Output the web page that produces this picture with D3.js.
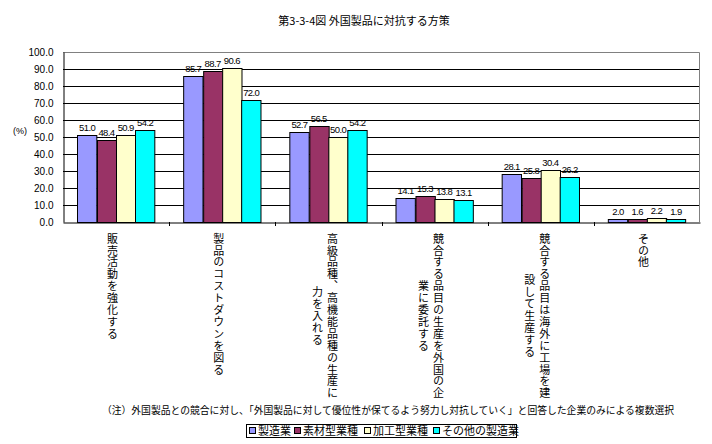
<!DOCTYPE html>
<html>
<head>
<meta charset="utf-8">
<script src="https://cdn.jsdelivr.net/npm/d3@7"></script>
<style>
  html, body { margin: 0; padding: 0; background: #fff; }
  svg { display: block; }
  text { font-family: "Liberation Sans", Arial, "Noto Sans CJK JP", sans-serif; fill: #000; }
  .jp { font-family: "Noto Sans CJK JP", "Liberation Sans", sans-serif; }
  .val { font-family: "Liberation Sans", Arial, sans-serif; letter-spacing: -0.6px; }
</style>
</head>
<body>
<script>
const title = "第3-3-4図  外国製品に対抗する方策";
const categories = ["販売活動を強化する", "製品のコストダウンを図る", "高級品種、高機能品種の生産に力を入れる", "競合する品目の生産を外国の企業に委託する", "競合する品目は海外に工場を建設して生産する", "その他"];
const categoryLines = [
  ["販売活動を強化する"],
  ["製品のコストダウンを図る"],
  ["高級品種、高機能品種の生産に", "力を入れる"],
  ["競合する品目の生産を外国の企", "業に委託する"],
  ["競合する品目は海外に工場を建", "設して生産する"],
  ["その他"]
];
const seriesNames = ["製造業", "素材型業種", "加工型業種", "その他の製造業"];
const seriesColors = ["#9999FF", "#993366", "#FFFFCC", "#00FFFF"];
const s1 = [51.0, 85.7, 52.7, 14.1, 28.1, 2.0];
const s2 = [48.4, 88.7, 56.5, 15.3, 25.8, 1.6];
const s3 = [50.9, 90.6, 50.0, 13.8, 30.4, 2.2];
const s4 = [54.2, 72.0, 54.2, 13.1, 26.2, 1.9];
const seriesValues = [s1, s2, s3, s4];
const yTicks = [0, 10, 20, 30, 40, 50, 60, 70, 80, 90, 100];
const yUnit = "(%)";
const note = "（注）外国製品との競合に対し、「外国製品に対して優位性が保てるよう努力し対抗していく」と回答した企業のみによる複数選択";

const W = 712, H = 444;
const svg = d3.select("body").append("svg").attr("width", W).attr("height", H);

const pLeft = 63, pRight = 700, pTop = 52, pBottom = 222;
const x = d3.scaleBand().domain(categories).range([pLeft, pRight]).paddingInner(0).paddingOuter(0);
const x1 = d3.scaleBand().domain(seriesNames).range([x.bandwidth() * 0.136, x.bandwidth() * 0.864]).padding(0);
const y = d3.scaleLinear().domain([0, 100]).range([pBottom, pTop]);

// title
svg.append("text").attr("class", "jp").attr("x", 364).attr("y", 25)
  .attr("text-anchor", "middle").attr("font-size", 11).text(title);

// gridlines
svg.append("g").selectAll("line").data(yTicks.filter(d => d > 0 && d < 100)).join("line")
  .attr("x1", pLeft).attr("x2", pRight)
  .attr("y1", d => Math.round(y(d)) + 0.5).attr("y2", d => Math.round(y(d)) + 0.5)
  .attr("stroke", "#000").attr("stroke-width", 1);

// plot border top & right (gray)
svg.append("path")
  .attr("d", `M${pLeft},${Math.round(y(100)) + 0.5}H${pRight - 0.5}V${pBottom}`)
  .attr("fill", "none").attr("stroke", "#808080").attr("stroke-width", 1);

// y axis
const yAxis = d3.axisLeft(y).tickValues(yTicks).tickSize(0).tickPadding(10).tickFormat(d3.format(".1f"));
const gy = svg.append("g").attr("transform", `translate(${pLeft + 0.5},0)`).call(yAxis);
gy.select(".domain").attr("stroke", "#000");
gy.selectAll("text").attr("font-size", 10).attr("font-family", "Liberation Sans, Arial, sans-serif");

svg.append("text").attr("x", 13).attr("y", 134).attr("font-size", 9).text(yUnit);

// bars
const groups = svg.append("g").selectAll("g").data(categories).join("g")
  .attr("transform", d => `translate(${x(d)},0)`);
groups.selectAll("rect").data((c, i) => seriesNames.map((s, j) => ({s, j, v: seriesValues[j][i]}))).join("rect")
  .attr("x", d => Math.round(x1(d.s)) + 0.5)
  .attr("y", d => Math.round(y(d.v)) + 0.5)
  .attr("width", x1.bandwidth())
  .attr("height", d => pBottom - Math.round(y(d.v)))
  .attr("fill", d => seriesColors[d.j]).attr("stroke", "#000").attr("stroke-width", 1);
groups.selectAll("text.val").data((c, i) => seriesNames.map((s, j) => ({s, j, v: seriesValues[j][i]}))).join("text")
  .attr("class", "val")
  .attr("x", d => x1(d.s) + x1.bandwidth() / 2)
  .attr("y", d => y(d.v) - 4)
  .attr("text-anchor", "middle").attr("font-size", 9.5)
  .text(d => d.v.toFixed(1));

// x axis
const xAxis = d3.axisBottom(x).tickSize(0).tickFormat("");
const gx = svg.append("g").attr("transform", `translate(0,${pBottom + 0.5})`).call(xAxis);
gx.select(".domain").attr("stroke", "#000");
svg.append("g").selectAll("line").data(categories.slice(1)).join("line")
  .attr("x1", d => Math.round(x(d)) + 0.5).attr("x2", d => Math.round(x(d)) + 0.5)
  .attr("y1", pBottom).attr("y2", pBottom + 4).attr("stroke", "#000");

// category labels (vertical)
const pitch = 11.9, labTop = 233, colGap = 15;
categoryLines.forEach((lines, i) => {
  const c = x(categories[i]) + x.bandwidth() / 2 - 3.5;
  const maxLen = d3.max(lines, l => l.length);
  const cy = labTop + maxLen * pitch / 2;
  const n = lines.length;
  lines.forEach((l, k) => {
    const cx = c + ((n - 1) / 2 - k) * colGap;
    svg.append("text").attr("class", "jp")
      .attr("x", cx).attr("y", cy)
      .attr("text-anchor", "middle")
      .attr("font-size", 11)
      .style("writing-mode", "vertical-rl")
      .style("text-orientation", "upright")
      .style("letter-spacing", "0.9px")
      .text(l);
  });
});

// note
svg.append("text").attr("class", "jp").attr("x", 388).attr("y", 414)
  .attr("text-anchor", "middle").attr("font-size", 9.8).text(note);

// legend
const lg = svg.append("g");
lg.append("rect").attr("x", 246.5).attr("y", 424.5).attr("width", 270).attr("height", 13)
  .attr("fill", "#fff").attr("stroke", "#000");
const legX = [249, 294, 364, 433];
seriesNames.forEach((s, j) => {
  lg.append("rect").attr("x", legX[j] + 0.5).attr("y", 427.5).attr("width", 6).attr("height", 6)
    .attr("fill", seriesColors[j]).attr("stroke", "#000");
  lg.append("text").attr("class", "jp").attr("x", legX[j] + 9).attr("y", 435)
    .attr("font-size", 11).text(s);
});
</script>
</body>
</html>
